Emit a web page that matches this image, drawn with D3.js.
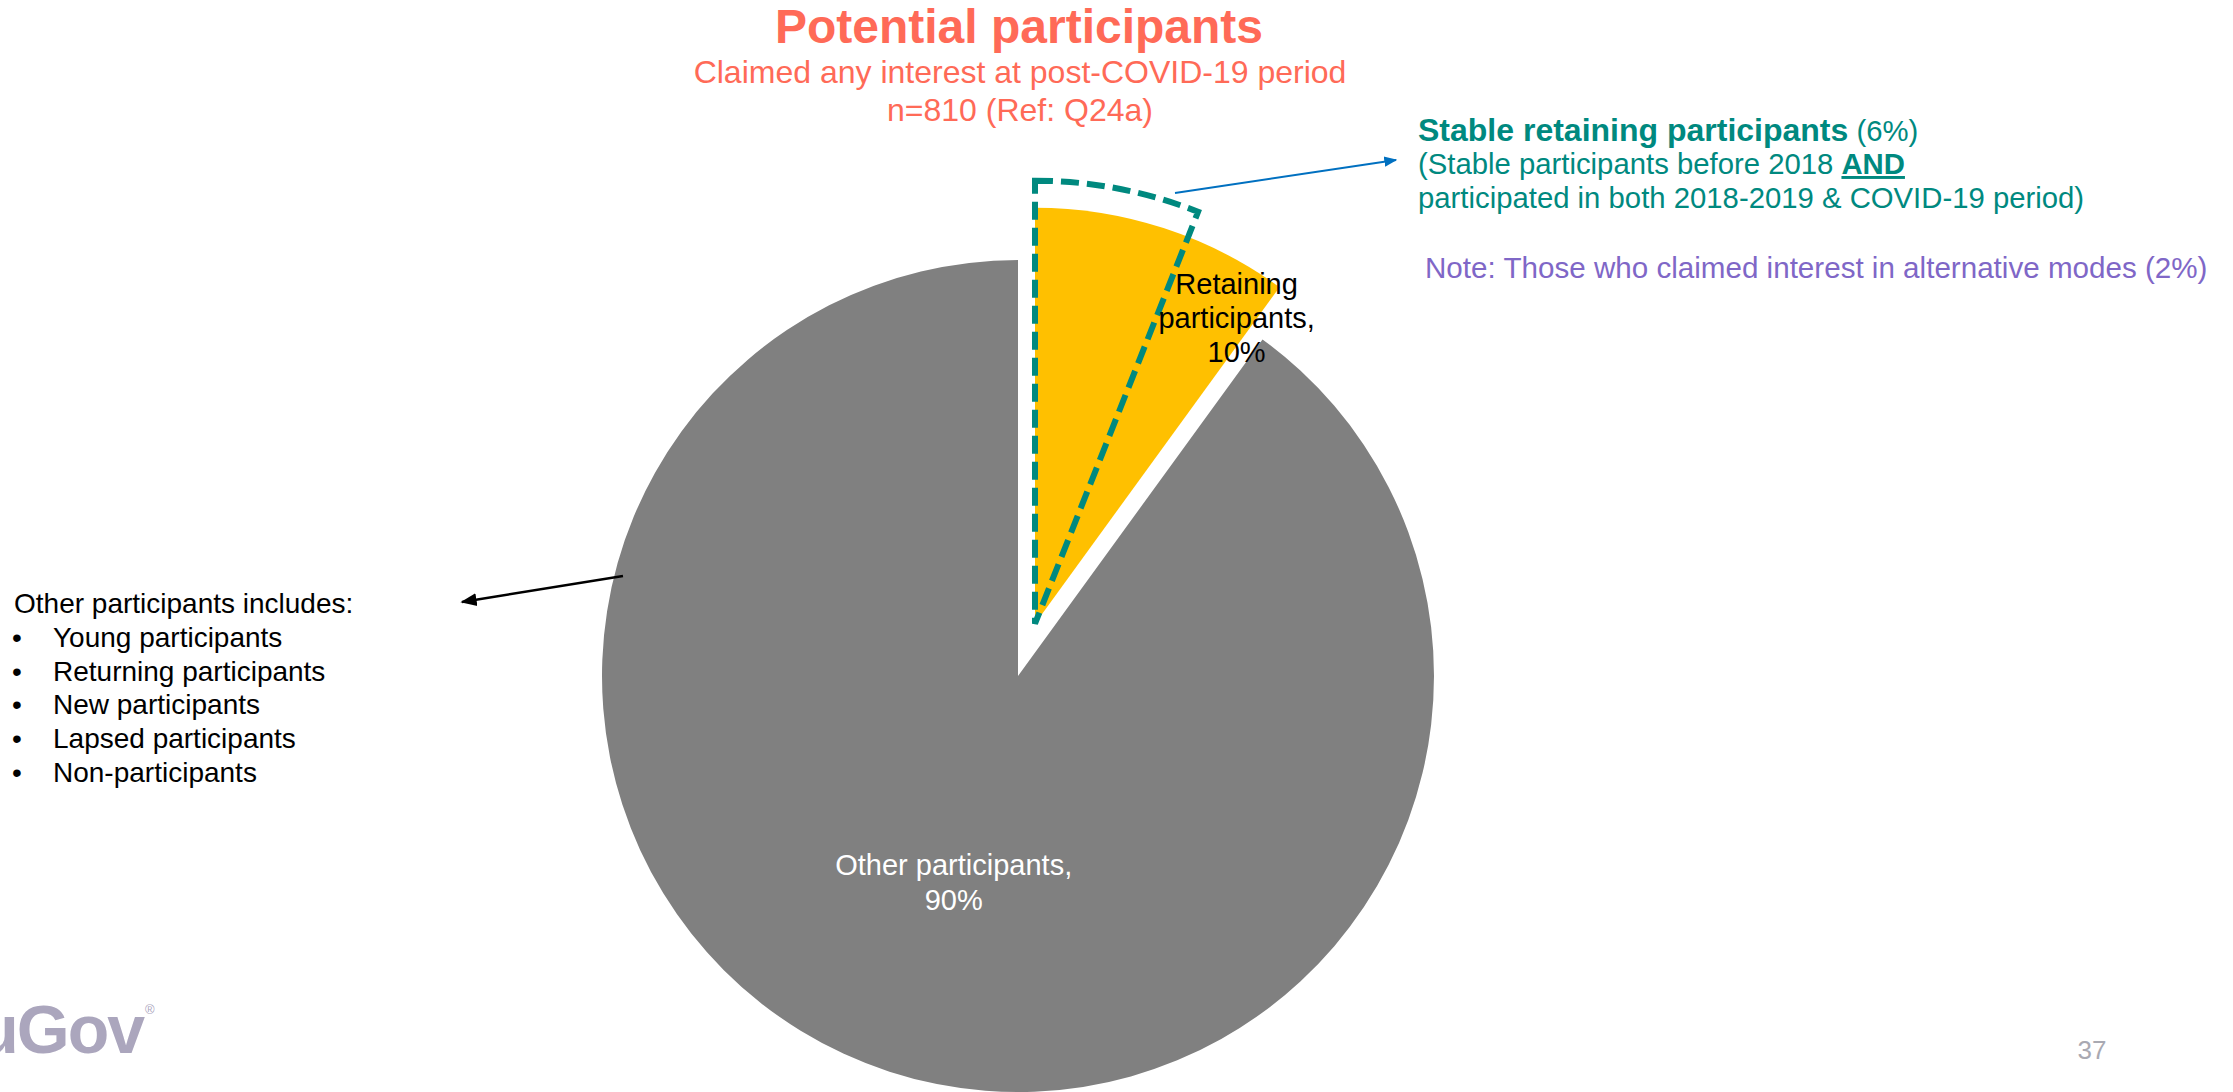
<!DOCTYPE html>
<html>
<head>
<meta charset="utf-8">
<script src="https://cdn.jsdelivr.net/npm/d3@7"></script>
<style>
  body { margin: 0; background: #fff; }
  svg { display: block; font-family: 'Liberation Sans', Arial, sans-serif; }
</style>
</head>
<body>
<div id="vis"></div>
<script>
'use strict';

// Chart data
const categories = ['Retaining participants', 'Other participants'];
const shares = [10, 90];
const stableShare = 6;        // stable retaining participants, part of retaining
const altModesShare = 2;      // claimed interest in alternative modes
const sampleSize = 810;
const otherGroups = [
  'Young participants',
  'Returning participants',
  'New participants',
  'Lapsed participants',
  'Non-participants'
];

// Constants for sizing
const width = 2233;
const height = 1092;
const center = { x: 1018, y: 676 };
const radius = 416;
const explode = 55;

const fillColor = d3.scaleOrdinal()
  .domain(categories)
  .range(['#FFC000', '#808080']);

const teal = '#00897F';
const coral = '#FF6A57';

const svg = d3.select('#vis')
  .append('svg')
  .attr('width', width)
  .attr('height', height);

svg.append('defs').selectAll('marker')
  .data([['head-blue', '#0070C0'], ['head-black', '#000']])
  .enter().append('marker')
  .attr('id', d => d[0])
  .attr('viewBox', '0 0 10 10')
  .attr('refX', 9).attr('refY', 5)
  .attr('markerWidth', 6.5).attr('markerHeight', 6.5)
  .attr('markerUnits', 'strokeWidth')
  .attr('orient', 'auto')
  .append('path')
  .attr('d', 'M0,1 L10,5 L0,9 Z')
  .attr('fill', d => d[1]);

// title block
const title = svg.append('g').attr('fill', coral).attr('text-anchor', 'middle');
title.append('text')
  .attr('x', 1019).attr('y', 43)
  .attr('font-size', 48).attr('font-weight', 'bold')
  .text('Potential participants');
title.append('text')
  .attr('x', 1020).attr('y', 83)
  .attr('font-size', 32)
  .text('Claimed any interest at post-COVID-19 period');
title.append('text')
  .attr('x', 1020).attr('y', 121)
  .attr('font-size', 32)
  .text(`n=${sampleSize} (Ref: Q24a)`);

// pie
const pie = d3.pie().sort(null).value(d => d.value);
const arcs = pie(categories.map((c, i) => ({ name: c, value: shares[i] })));
const arc = d3.arc().innerRadius(0).outerRadius(radius);

function offset(d, dist) {
  const a = (d.startAngle + d.endAngle) / 2;
  return [Math.sin(a) * dist, -Math.cos(a) * dist];
}

const pieG = svg.append('g')
  .attr('transform', `translate(${center.x},${center.y})`);

pieG.selectAll('path.slice')
  .data(arcs)
  .enter().append('path')
  .attr('class', 'slice')
  .attr('d', arc)
  .attr('fill', d => fillColor(d.data.name))
  .attr('transform', (d, i) => i === 0 ? `translate(${offset(d, explode)})` : null);

// dashed outline for the stable retaining part
const retaining = arcs[0];
const stableArc = d3.arc()
  .innerRadius(0)
  .outerRadius(radius + 27)
  .startAngle(retaining.startAngle)
  .endAngle(retaining.startAngle + 2 * Math.PI * stableShare / 100);

pieG.append('path')
  .attr('d', stableArc())
  .attr('transform', `translate(${offset(retaining, explode)})`)
  .attr('fill', 'none')
  .attr('stroke', teal)
  .attr('stroke-width', 6)
  .attr('stroke-dasharray', '18,8')
  .attr('stroke-linejoin', 'miter');

// slice labels
const retA = retaining.endAngle - 0.075;
const retPos = [Math.sin(retA) * radius, -Math.cos(retA) * radius];
const retLabel = pieG.append('text')
  .attr('text-anchor', 'middle')
  .attr('font-size', 29)
  .attr('fill', '#000');
['Retaining', 'participants,', `${shares[0]}%`].forEach((t, i) => {
  retLabel.append('tspan')
    .attr('x', retPos[0])
    .attr('y', retPos[1] - 28 + i * 34)
    .text(t);
});

const otherPos = arc.centroid(arcs[1]);
const otherLabel = pieG.append('text')
  .attr('text-anchor', 'middle')
  .attr('font-size', 29)
  .attr('fill', '#fff');
['Other participants,', `${shares[1]}%`].forEach((t, i) => {
  otherLabel.append('tspan')
    .attr('x', otherPos[0])
    .attr('y', otherPos[1] + 1 + i * 35)
    .text(t);
});

// callout arrows
svg.append('line')
  .attr('x1', 1175).attr('y1', 193)
  .attr('x2', 1396).attr('y2', 160)
  .attr('stroke', '#0070C0').attr('stroke-width', 2)
  .attr('marker-end', 'url(#head-blue)');

svg.append('line')
  .attr('x1', 623).attr('y1', 576)
  .attr('x2', 462).attr('y2', 602)
  .attr('stroke', '#000').attr('stroke-width', 2.5)
  .attr('marker-end', 'url(#head-black)');

// right hand notes
const right = svg.append('g').attr('fill', teal);
const r1 = right.append('text').attr('x', 1418).attr('y', 141);
r1.append('tspan').attr('font-size', 32).attr('font-weight', 'bold')
  .text('Stable retaining participants');
r1.append('tspan').attr('font-size', 29.3).text(` (${stableShare}%)`);

const r2 = right.append('text').attr('x', 1418).attr('y', 174).attr('font-size', 29.3);
r2.append('tspan').text('(Stable participants before 2018 ');
r2.append('tspan').attr('font-weight', 'bold')
  .style('text-decoration', 'underline').text('AND');

right.append('text').attr('x', 1418).attr('y', 208).attr('font-size', 29.3)
  .text('participated in both 2018-2019 & COVID-19 period)');

svg.append('text')
  .attr('x', 1425).attr('y', 278)
  .attr('font-size', 29.6)
  .attr('fill', '#7F67C7')
  .text(`Note: Those who claimed interest in alternative modes (${altModesShare}%)`);

// left hand list
const left = svg.append('g').attr('fill', '#000').attr('font-size', 28);
left.append('text').attr('x', 14).attr('y', 613)
  .text('Other participants includes:');
const items = left.selectAll('g.item')
  .data(otherGroups)
  .enter().append('g')
  .attr('class', 'item')
  .attr('transform', (d, i) => `translate(0,${647 + i * 33.7})`);
items.append('text').attr('x', 12).text('\u2022');
items.append('text').attr('x', 53).text(d => d);

// footer
svg.append('text')
  .attr('x', 143).attr('y', 1053)
  .attr('text-anchor', 'end')
  .attr('font-size', 68).attr('font-weight', 'bold')
  .attr('letter-spacing', -2)
  .attr('fill', '#ABA6BD')
  .text('YouGov');
svg.append('text')
  .attr('x', 145).attr('y', 1014)
  .attr('font-size', 13)
  .attr('fill', '#ABA6BD')
  .text('\u00AE');

svg.append('text')
  .attr('x', 2092).attr('y', 1059)
  .attr('text-anchor', 'middle')
  .attr('font-size', 26)
  .attr('fill', '#A9A9B2')
  .text('37');
</script>
</body>
</html>
